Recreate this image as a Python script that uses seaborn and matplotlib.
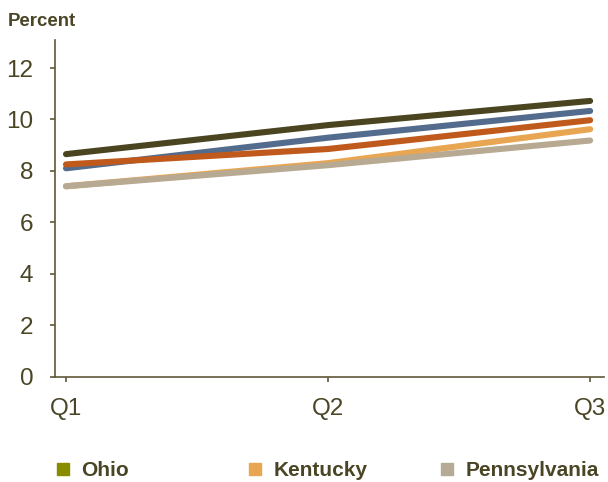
import matplotlib
matplotlib.use("Agg")
import matplotlib.pyplot as plt
from matplotlib.lines import Line2D
import seaborn as sns
import pandas as pd

# Quarterly rates, percent
quarters = ["Q1", "Q2", "Q3"]
ohio = [8.65, 9.78, 10.72]
series_d = [8.10, 9.29, 10.33]
series_e = [8.25, 8.85, 9.97]
kentucky = [7.40, 8.30, 9.62]
pennsylvania = [7.40, 8.22, 9.18]

series_names = ["Ohio", "Series D", "Series E", "Kentucky", "Pennsylvania"]
series_values = [ohio, series_d, series_e, kentucky, pennsylvania]
line_colors = ["#4a4520", "#536b8c", "#c05a1c", "#e8a552", "#b8aa92"]

legend_labels = ["Ohio", "Kentucky", "Pennsylvania"]
legend_colors = ["#8a8c00", "#e8a552", "#b5aa96"]

y_ticks = [0, 2, 4, 6, 8, 10, 12]

rows = []
for name, vals in zip(series_names, series_values):
    for i, (q, v) in enumerate(zip(quarters, vals)):
        rows.append({"series": name, "pos": i, "quarter": q, "value": v})
df = pd.DataFrame(rows)

sns.set_theme(style="white")
plt.rcParams["font.family"] = ["Liberation Sans", "DejaVu Sans"]

text_color = "#4a4525"
axis_color = "#5e5838"

fig = plt.figure(figsize=(6.08, 4.82), dpi=100)
ax = fig.add_axes([55 / 608, (482 - 376.5) / 482, (604 - 55) / 608, (376.5 - 40) / 482])

sns.lineplot(
    data=df, x="pos", y="value", hue="series", hue_order=series_names,
    palette=dict(zip(series_names, line_colors)), linewidth=4.4,
    legend=False, ax=ax, sort=False,
)
for ln in ax.get_lines():
    ln.set_solid_capstyle("round")
    ln.set_solid_joinstyle("round")

ax.set_xlim(-0.042, 2.053)
ax.set_ylim(0, 13.09)
ax.set_xticks(range(len(quarters)))
ax.set_xticklabels(quarters)
ax.set_yticks(y_ticks)
ax.set_xlabel("")
ax.set_ylabel("")

for side in ["top", "right"]:
    ax.spines[side].set_visible(False)
for side in ["left", "bottom"]:
    ax.spines[side].set_color(axis_color)
    ax.spines[side].set_linewidth(1.2)

ax.tick_params(axis="y", direction="out", length=3.6, width=1.2, color=axis_color,
               labelsize=17.5, labelcolor=text_color, pad=12, left=True)
ax.tick_params(axis="x", direction="out", length=3.6, width=1.2, color=axis_color,
               labelsize=17.5, labelcolor=text_color, pad=12, bottom=True)

fig.text(8 / 608, 1 - 26 / 482, "Percent", fontsize=13.4, fontweight="bold",
         color=text_color, ha="left", va="baseline")

# Legend entries placed at fixed positions along the bottom
legend_x = [51, 243, 435]
for lab, col, x0 in zip(legend_labels, legend_colors, legend_x):
    h = Line2D([], [], marker="s", linestyle="none", markersize=9,
               markerfacecolor=col, markeredgecolor=col)
    leg = fig.legend(
        handles=[h], labels=[lab], loc="center left",
        bbox_to_anchor=((x0 - 9) / 608, 1 - 470.5 / 482),
        frameon=False, handlelength=1.0, handletextpad=0.4, borderpad=0,
        prop={"family": ["Liberation Sans Narrow", "Liberation Sans"],
              "weight": "bold", "size": 15},
    )
    for t in leg.get_texts():
        t.set_color(text_color)

fig.savefig("out.png", dpi=100)
